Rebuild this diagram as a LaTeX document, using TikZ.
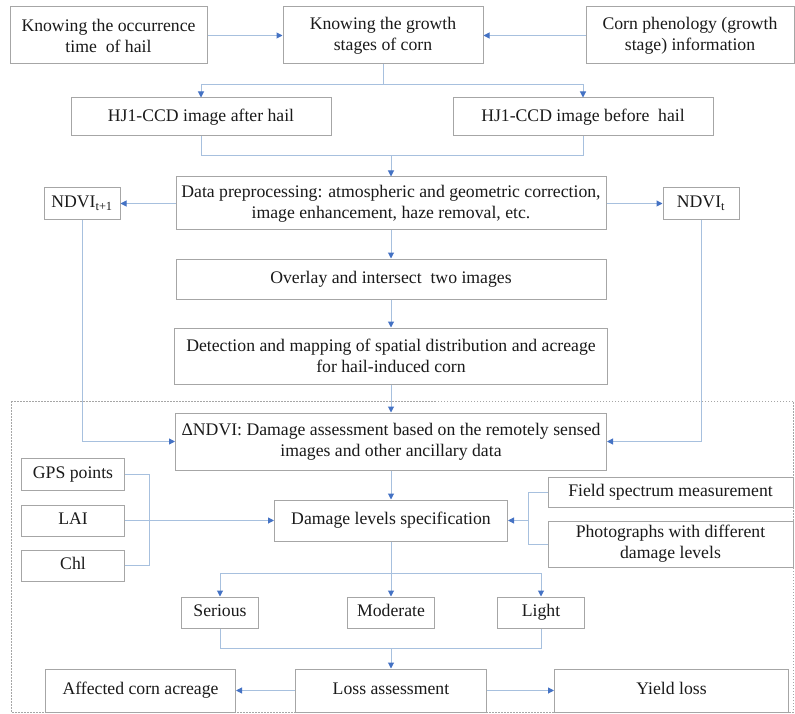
\documentclass[tikz,border=0pt]{standalone}
\usepackage{fontspec}
\setmainfont{Liberation Serif}
\usepackage{tikz}
\usetikzlibrary{arrows.meta, positioning}
\definecolor{BoxGray}{HTML}{A6A6A6}
\definecolor{LinkBlue}{HTML}{A7C0DE}
\definecolor{TipBlue}{HTML}{4472C4}
\definecolor{InkGray}{HTML}{1A1A1A}

\begin{document}
\begin{tikzpicture}[
    x=1pt, y=1pt,
    box/.style={rectangle, draw=BoxGray, line width=1pt, fill=white, align=center, inner sep=2pt, text=InkGray, font=\fontsize{17.7}{21}\selectfont},
    oneline/.style={box, text height=12.5pt, text depth=4pt},
    link/.style={draw=LinkBlue, line width=1pt},
    arrow/.style={link, -{Triangle[length=6pt, width=6pt, color=TipBlue]}},
    frame/.style={draw=BoxGray, line width=0.8pt, dash pattern=on 1.5pt off 1.5pt},
  ]
  \useasboundingbox (0,0) rectangle (795,-714);

  % Dotted frame round the assessment part
  \draw[frame] (11,-401) rectangle (793,-712);

  % Top row
  \node[box, minimum width=200pt, minimum height=57pt] (growth) at (383,-35.5) {Knowing the growth\\stages of corn};
  \node[box, minimum width=197pt, minimum height=57pt, left=75pt of growth] (occur) {Knowing the occurrence\\time\ \ of hail};
  \node[box, minimum width=208pt, minimum height=57pt, right=102pt of growth] (pheno) {Corn phenology (growth\\stage) information};

  % Images
  \node[oneline, minimum width=260pt, minimum height=38pt] (after) at (201,-117) {HJ1-CCD image after hail};
  \node[oneline, minimum width=260pt, minimum height=38pt, right=121pt of after] (before) {HJ1-CCD image before\ \ hail};

  % Processing chain
  \node[box, minimum width=430pt, minimum height=53pt] (prep) at (391,-203.5) {Data preprocessing: atmospheric and geometric correction,\\image enhancement, haze removal, etc.};
  \node[oneline, minimum width=76pt, minimum height=32pt, left=55pt of prep] (ndvione) {NDVI\textsubscript{t+1}};
  \node[oneline, minimum width=76pt, minimum height=32pt, right=56pt of prep] (ndvit) {NDVI\textsubscript{t}};
  \node[oneline, minimum width=430pt, minimum height=40pt, below=28pt of prep] (overlay) {Overlay and intersect\ \ two images};
  \node[box, minimum width=433pt, minimum height=56pt, below=28pt of overlay] (detect) {Detection and mapping of spatial distribution and acreage\\for hail-induced corn};
  \node[box, minimum width=431pt, minimum height=57pt, below=28pt of detect] (dndvi) {ΔNDVI: Damage assessment based on the remotely sensed\\images and other ancillary data};

  % Damage levels and ancillary data
  \node[oneline, minimum width=233pt, minimum height=41pt, below=29pt of dndvi] (damage) {Damage levels specification};
  \node[oneline, minimum width=103pt, minimum height=31pt, left=149pt of damage] (lai) {LAI};
  \node[oneline, minimum width=103pt, minimum height=32pt, above=14pt of lai] (gps) {GPS points};
  \node[oneline, minimum width=103pt, minimum height=31pt, below=13pt of lai] (chl) {Chl};
  \node[oneline, minimum width=245pt, minimum height=30pt] (field) at (670.5,-492) {Field spectrum measurement};
  \node[box, minimum width=245pt, minimum height=46pt, below=13pt of field] (photo) {Photographs with different\\damage levels};

  % Levels
  \node[oneline, minimum width=87pt, minimum height=31pt, below=55pt of damage] (moderate) {Moderate};
  \node[oneline, minimum width=77pt, minimum height=31pt, left=88pt of moderate] (serious) {Serious};
  \node[oneline, minimum width=87pt, minimum height=31pt, right=62pt of moderate] (light) {Light};

  % Outputs
  \node[oneline, minimum width=191pt, minimum height=43pt, below=40pt of moderate] (loss) {Loss assessment};
  \node[oneline, minimum width=190pt, minimum height=43pt, left=59pt of loss] (affected) {Affected corn acreage};
  \node[oneline, minimum width=234pt, minimum height=43pt, right=67pt of loss] (yield) {Yield loss};

  % Arrows
  \draw[arrow] (occur) -- (growth);
  \draw[arrow] (pheno) -- (growth);
  \draw[link] (growth.south) -- ++(0,-20) coordinate (gsplit);
  \draw[arrow] (gsplit) -| (after.north);
  \draw[arrow] (gsplit) -| (before.north);
  \draw[link] (after.south) -- ++(0,-19) coordinate (imerge) -| (before.south);
  \draw[arrow] (imerge -| prep.north) -- (prep.north);
  \draw[arrow] (prep) -- (ndvione);
  \draw[arrow] (prep) -- (ndvit);
  \draw[arrow] (prep) -- (overlay);
  \draw[arrow] (overlay) -- (detect);
  \draw[arrow] (detect) -- (dndvi);
  \draw[arrow] (ndvione.south) |- (dndvi.west);
  \draw[arrow] (ndvit.south) |- (dndvi.east);
  \draw[arrow] (dndvi) -- (damage);

  % Brackets into damage levels
  \draw[link] (gps.east) -- ++(24,0) |- (chl.east);
  \draw[arrow] (lai) -- (damage);
  \draw[link] (field.west) -- ++(-19,0) coordinate (fbrace) |- (photo.west);
  \draw[arrow] (fbrace |- damage.east) -- (damage.east);

  % Levels split and merge
  \draw[link] (damage.south) -- ++(0,-32) coordinate (lsplit);
  \draw[arrow] (lsplit) -- (moderate.north);
  \draw[arrow] (lsplit) -| (serious.north);
  \draw[arrow] (lsplit) -| (light.north);
  \draw[link] (serious.south) -- ++(0,-20) coordinate (lmerge) -| (light.south);
  \draw[arrow] (lmerge -| loss.north) -- (loss.north);
  \draw[arrow] (loss) -- (affected);
  \draw[arrow] (loss) -- (yield);

\end{tikzpicture}
\end{document}
